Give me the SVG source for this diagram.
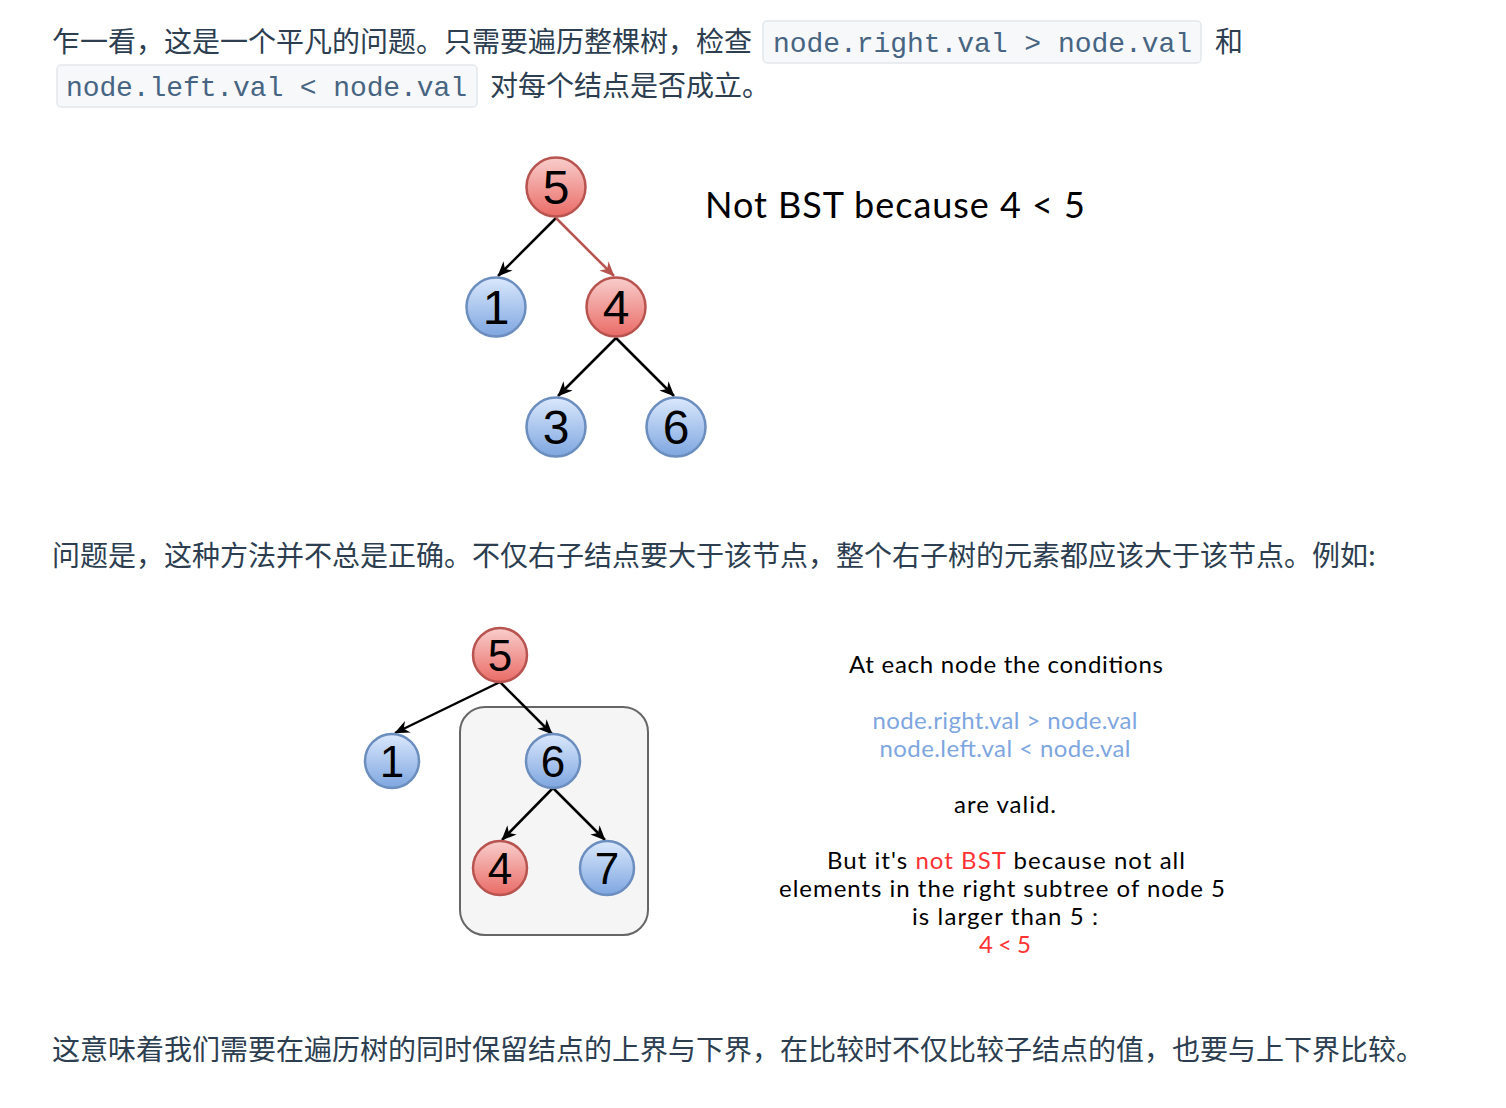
<svg xmlns="http://www.w3.org/2000/svg" width="1506" height="1108" viewBox="0 0 1506 1108">
<defs>
<linearGradient id="gRed" x1="0" y1="0" x2="0" y2="1"><stop offset="0" stop-color="#f8cecc"/><stop offset="1" stop-color="#ea6b66"/></linearGradient>
<linearGradient id="gBlue" x1="0" y1="0" x2="0" y2="1"><stop offset="0" stop-color="#dae8fc"/><stop offset="1" stop-color="#7ea6e0"/></linearGradient>
<marker id="arrB" viewBox="0 0 10 10" refX="9.5" refY="5" markerWidth="15" markerHeight="13" markerUnits="userSpaceOnUse" orient="auto" overflow="visible" preserveAspectRatio="none"><path d="M0,0 L10,5 L0,10 L3,5 Z" fill="#000"/></marker>
<marker id="arrR" viewBox="0 0 10 10" refX="9.5" refY="5" markerWidth="15" markerHeight="13" markerUnits="userSpaceOnUse" orient="auto" overflow="visible" preserveAspectRatio="none"><path d="M0,0 L10,5 L0,10 L3,5 Z" fill="#b85450"/></marker>
<style>
.zh{font-family:"Noto Sans CJK SC","Noto Sans",sans-serif;font-size:28px;fill:#2c3e50}
.code{font-family:"Liberation Mono",monospace;font-size:28px;fill:#476582}
.cbox{fill:#f6f8fa;stroke:#e4e8ec;stroke-width:1.5}
.red{fill:url(#gRed);stroke:#b85450;stroke-width:2.5}
.blue{fill:url(#gBlue);stroke:#6c8ebf;stroke-width:2.5}
.num{font-family:"Liberation Sans",Arial,sans-serif;fill:#000;text-anchor:middle}
.edge{fill:none;stroke:#000;stroke-width:2.5;marker-end:url(#arrB)}
.edgeR{fill:none;stroke:#b85450;stroke-width:2.5;marker-end:url(#arrR)}
.comic{font-family:"Comic Sans MS","Lato",sans-serif;fill:#000}
.note{font-size:24px;text-anchor:middle}
</style>
</defs>
<rect width="1506" height="1108" fill="#fff"/>

<g id="paragraph1">
<text class="zh" x="52" y="52">乍一看，这是一个平凡的问题。只需要遍历整棵树，检查</text>
<rect class="cbox" x="763" y="21" width="438" height="42" rx="4"/>
<text class="code" x="773" y="52" textLength="419">node.right.val &gt; node.val</text>
<text class="zh" x="1215" y="52">和</text>
<rect class="cbox" x="57" y="65" width="420" height="42" rx="4"/>
<text class="code" x="66" y="96" textLength="401">node.left.val &lt; node.val</text>
<text class="zh" x="490" y="96">对每个结点是否成立。</text>
</g>

<g id="tree1-connectors">
<line class="edge" x1="556" y1="218" x2="498" y2="276"/>
<line class="edgeR" x1="556" y1="218" x2="614" y2="276"/>
<line class="edge" x1="616" y1="338" x2="558" y2="396"/>
<line class="edge" x1="616" y1="338" x2="674" y2="396"/>
</g>
<g id="t1-n5"><circle class="red" cx="556" cy="187" r="29.5"/><text class="num" x="556" y="204" font-size="48">5</text></g>
<g id="t1-n1"><circle class="blue" cx="496" cy="307" r="29.5"/><text class="num" x="496" y="324" font-size="48">1</text></g>
<g id="t1-n4"><circle class="red" cx="616" cy="307" r="29.5"/><text class="num" x="616" y="324" font-size="48">4</text></g>
<g id="t1-n3"><circle class="blue" cx="556" cy="427" r="29.5"/><text class="num" x="556" y="444" font-size="48">3</text></g>
<g id="t1-n6"><circle class="blue" cx="676" cy="427" r="29.5"/><text class="num" x="676" y="444" font-size="48">6</text></g>
<g id="t1-label"><text class="comic" x="705" y="218" font-size="36" textLength="380">Not BST because 4 &lt; 5</text></g>

<g id="paragraph2">
<text class="zh" x="52" y="566">问题是，这种方法并不总是正确。不仅右子结点要大于该节点，整个右子树的元素都应该大于该节点。例如:</text>
</g>

<g id="subtree-box"><rect x="460" y="707" width="188" height="228" rx="25" fill="#f5f5f5" stroke="#666" stroke-width="2"/></g>
<g id="tree2-connectors">
<line class="edge" x1="500" y1="682" x2="395" y2="733"/>
<line class="edge" x1="500" y1="682" x2="552" y2="734"/>
<line class="edge" x1="553" y1="788" x2="502" y2="840"/>
<line class="edge" x1="553" y1="788" x2="605" y2="840"/>
</g>
<g id="t2-n5"><circle class="red" cx="500" cy="655" r="27"/><text class="num" x="500" y="671" font-size="44">5</text></g>
<g id="t2-n1"><circle class="blue" cx="392" cy="761" r="27"/><text class="num" x="392" y="777" font-size="44">1</text></g>
<g id="t2-n6"><circle class="blue" cx="553" cy="761" r="27"/><text class="num" x="553" y="777" font-size="44">6</text></g>
<g id="t2-n4"><circle class="red" cx="500" cy="868" r="27"/><text class="num" x="500" y="884" font-size="44">4</text></g>
<g id="t2-n7"><circle class="blue" cx="607" cy="868" r="27"/><text class="num" x="607" y="884" font-size="44">7</text></g>

<g id="t2-note" class="comic">
<text class="note comic" x="1006" y="673" textLength="314">At each node the conditions</text>
<text class="note comic" x="1005" y="729" style="fill:#7ea6e0" textLength="265">node.right.val &gt; node.val</text>
<text class="note comic" x="1005" y="757" style="fill:#7ea6e0" textLength="251">node.left.val &lt; node.val</text>
<text class="note comic" x="1005" y="813" textLength="102">are valid.</text>
<text class="note comic" x="1006" y="869" textLength="358">But it's <tspan style="fill:#ff3333">not BST</tspan> because not all</text>
<text class="note comic" x="1002" y="897" textLength="446">elements in the right subtree of node 5</text>
<text class="note comic" x="1005" y="925" textLength="186">is larger than 5 :</text>
<text class="note comic" x="1005" y="953" style="fill:#ff3333" textLength="52">4 &lt; 5</text>
</g>

<g id="paragraph3">
<text class="zh" x="52" y="1060">这意味着我们需要在遍历树的同时保留结点的上界与下界，在比较时不仅比较子结点的值，也要与上下界比较。</text>
</g>
</svg>
